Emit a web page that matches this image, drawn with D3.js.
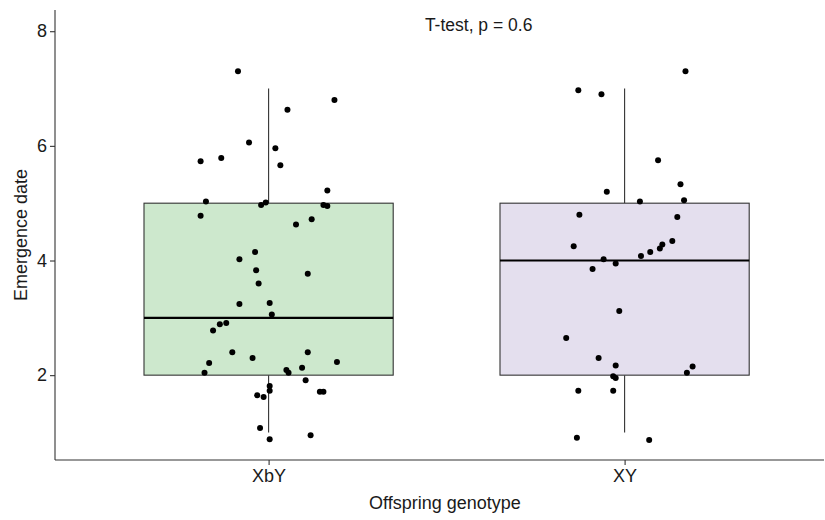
<!DOCTYPE html>
<meta charset="utf-8">
<style>
body { margin: 0; background: #fff; }
text { font-family: "Liberation Sans", Arial, sans-serif; }
</style>
<body>
<script src="https://cdn.jsdelivr.net/npm/d3@7"></script>
<script>
// groups on the x axis
var genotypes = ["XbY", "XY"];

// box statistics: whisker low, Q1, median, Q3, whisker high
var boxLow    = [1, 1];
var boxQ1     = [2, 2];
var boxMedian = [3, 4];
var boxQ3     = [5, 5];
var boxHigh   = [7, 7];

// jittered points: emergence date, and horizontal jitter (in category units)
var xbyDate = [7.30, 6.80, 6.63, 6.06, 5.96, 5.73, 5.79, 5.66, 5.22, 5.03, 4.97, 5.01,
  4.97, 4.95, 4.78, 4.72, 4.63, 4.15, 4.02, 3.83, 3.77, 3.60, 3.24, 3.26, 3.06, 2.91,
  2.89, 2.78, 2.40, 2.40, 2.30, 2.21, 2.23, 2.13, 2.04, 2.09, 2.04, 1.91, 1.81, 1.73,
  1.65, 1.62, 1.71, 1.71, 1.08, 0.95, 0.88];
var xbyJitter = [-0.086, 0.185, 0.053, -0.055, 0.019, -0.191, -0.133, 0.033, 0.165, -0.176,
  -0.021, -0.008, 0.154, 0.165, -0.191, 0.121, 0.077, -0.038, -0.082, -0.035, 0.110,
  -0.028, -0.082, 0.003, 0.009, -0.119, -0.137, -0.156, -0.102, 0.110, -0.045, -0.167,
  0.192, 0.094, -0.180, 0.050, 0.056, 0.104, 0.003, 0.003, -0.032, -0.014, 0.144, 0.154,
  -0.024, 0.118, 0.003];

var xyDate = [7.30, 6.97, 6.90, 5.75, 5.33, 5.20, 5.03, 5.05, 4.80, 4.76, 4.25, 4.34,
  4.28, 4.21, 4.15, 4.08, 4.02, 3.95, 3.85, 3.12, 2.65, 2.30, 2.17, 2.15, 2.04, 1.98,
  1.95, 1.73, 1.73, 0.91, 0.87];
var xyJitter = [0.171, -0.130, -0.065, 0.094, 0.157, -0.050, 0.043, 0.167, -0.127, 0.148,
  -0.143, 0.134, 0.106, 0.099, 0.072, 0.046, -0.059, -0.025, -0.090, -0.015, -0.164,
  -0.073, -0.025, 0.191, 0.175, -0.032, -0.025, -0.130, -0.032, -0.134, 0.069];

var yTicks = [2, 4, 6, 8];
var fills = ["#cde8cd", "#e4dfee"];
var pLabel = "T-test, p = 0.6";

var width = 825, height = 520;
var svg = d3.select("body").append("svg")
    .attr("width", width)
    .attr("height", height);

var pLeft = 55, pRight = 824, pTop = 10, pBottom = 460;

// continuous x so the jitter can live in category units
var x = d3.scaleLinear().domain([0.4, 2.6]).range([pLeft, pLeft + 2.2 * 356]);
var y = d3.scaleLinear().domain([0.52, 8.37]).range([pBottom, pTop]);
var boxW = 0.7;

var boxes = genotypes.map(function(g, i) {
  return {g: g, pos: i + 1, lo: boxLow[i], q1: boxQ1[i], med: boxMedian[i], q3: boxQ3[i], hi: boxHigh[i], fill: fills[i]};
});

var b = svg.selectAll(".box")
  .data(boxes)
  .enter().append("g")
    .attr("class", "box");

b.append("line")
    .attr("x1", function(d) { return x(d.pos); })
    .attr("x2", function(d) { return x(d.pos); })
    .attr("y1", function(d) { return y(d.hi); })
    .attr("y2", function(d) { return y(d.q3); })
    .attr("stroke", "#333").attr("stroke-width", 1.1);
b.append("line")
    .attr("x1", function(d) { return x(d.pos); })
    .attr("x2", function(d) { return x(d.pos); })
    .attr("y1", function(d) { return y(d.q1); })
    .attr("y2", function(d) { return y(d.lo); })
    .attr("stroke", "#333").attr("stroke-width", 1.1);
b.append("rect")
    .attr("x", function(d) { return x(d.pos - boxW / 2); })
    .attr("width", function(d) { return x(d.pos + boxW / 2) - x(d.pos - boxW / 2); })
    .attr("y", function(d) { return y(d.q3); })
    .attr("height", function(d) { return y(d.q1) - y(d.q3); })
    .attr("fill", function(d) { return d.fill; })
    .attr("stroke", "#333").attr("stroke-width", 1.1);
b.append("line")
    .attr("x1", function(d) { return x(d.pos - boxW / 2); })
    .attr("x2", function(d) { return x(d.pos + boxW / 2); })
    .attr("y1", function(d) { return y(d.med); })
    .attr("y2", function(d) { return y(d.med); })
    .attr("stroke", "#000").attr("stroke-width", 2.2);

// points
var pts = [];
xbyDate.forEach(function(v, i) { pts.push({pos: 1 + xbyJitter[i], v: v}); });
xyDate.forEach(function(v, i) { pts.push({pos: 2 + xyJitter[i], v: v}); });

svg.selectAll(".dot")
  .data(pts)
  .enter().append("circle")
    .attr("class", "dot")
    .attr("r", 3)
    .attr("cx", function(d) { return x(d.pos); })
    .attr("cy", function(d) { return y(d.v); })
    .attr("fill", "#000");

// axes
var yAxis = svg.append("g")
    .attr("transform", "translate(" + pLeft + ",0)")
    .call(d3.axisLeft(y).tickValues(yTicks).tickSize(5).tickPadding(3));
var xAxis = svg.append("g")
    .attr("transform", "translate(0," + pBottom + ")")
    .call(d3.axisBottom(x).tickValues([1, 2]).tickFormat(function(d) { return genotypes[d - 1]; })
      .tickSize(5).tickPadding(4));

yAxis.select(".domain").attr("d", "M0," + pTop + "V" + pBottom);
xAxis.select(".domain").attr("d", "M" + pLeft + ",0H" + pRight);
svg.selectAll(".domain").attr("stroke", "#333").attr("stroke-width", 1.1);
svg.selectAll(".tick line").attr("stroke", "#333").attr("stroke-width", 1.1);
svg.selectAll(".tick text")
    .attr("fill", "#1a1a1a")
    .style("font-size", "18px")
    .style("font-family", "'Liberation Sans', Arial, sans-serif");

svg.append("text")
    .attr("transform", "translate(27," + (pTop + pBottom) / 2 + ") rotate(-90)")
    .attr("text-anchor", "middle")
    .attr("fill", "#1a1a1a")
    .style("font-size", "18px")
    .text("Emergence date");

svg.append("text")
    .attr("x", 445)
    .attr("y", 509)
    .attr("text-anchor", "middle")
    .attr("fill", "#1a1a1a")
    .style("font-size", "18px")
    .text("Offspring genotype");

svg.append("text")
    .attr("x", x(1.59))
    .attr("y", 31)
    .attr("text-anchor", "middle")
    .attr("fill", "#1a1a1a")
    .style("font-size", "17.5px")
    .text(pLabel);
</script>
</body>
